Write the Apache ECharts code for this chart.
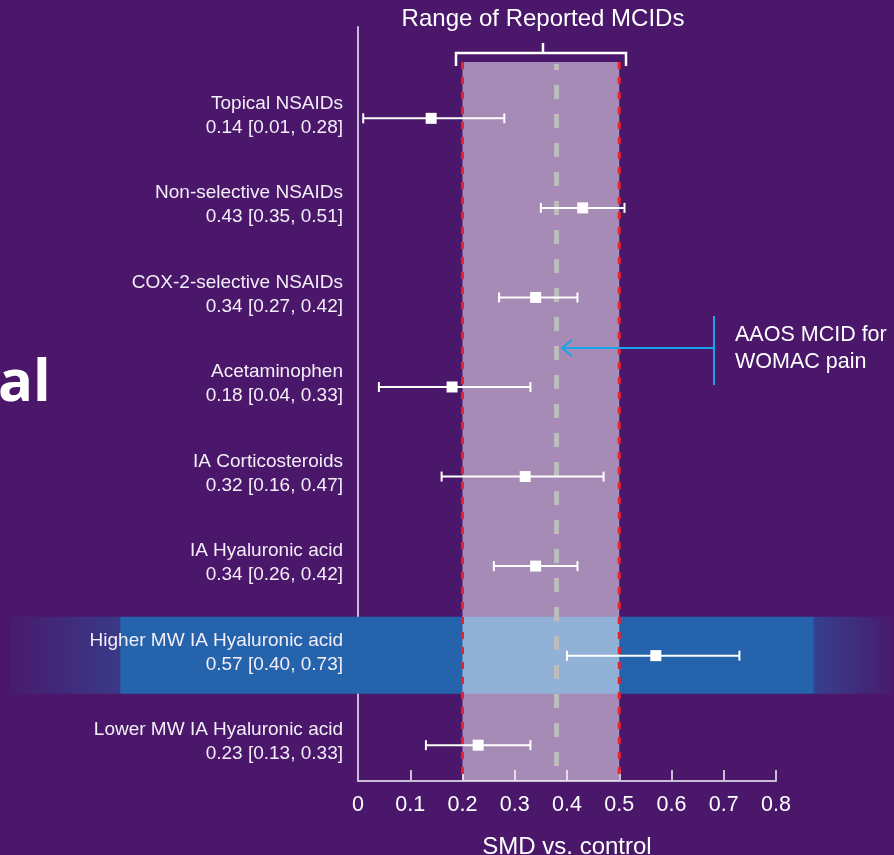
<!DOCTYPE html>
<html lang="en">

<head>
  <meta charset="UTF-8">
  <title>SMD vs. control</title>
  <script src="https://cdn.jsdelivr.net/npm/echarts@6/dist/echarts.min.js"></script>
  <style>
    html, body { margin: 0; padding: 0; background: #4a176a; }
    #main { width: 894px; height: 855px; }
  </style>
</head>

<body>
  <div id="main"></div>
</body>
<script>
  // treatments, top to bottom
  let treatments = [
    'Topical NSAIDs',
    'Non-selective NSAIDs',
    'COX-2-selective NSAIDs',
    'Acetaminophen',
    'IA Corticosteroids',
    'IA Hyaluronic acid',
    'Higher MW IA Hyaluronic acid',
    'Lower MW IA Hyaluronic acid'
  ]
  let smd = [0.14, 0.43, 0.34, 0.18, 0.32, 0.34, 0.57, 0.23]
  let ciLow = [0.01, 0.35, 0.27, 0.04, 0.16, 0.26, 0.40, 0.13]
  let ciHigh = [0.28, 0.51, 0.42, 0.33, 0.47, 0.42, 0.73, 0.33]
  let highlightRow = 6
  // range of reported MCIDs and the AAOS MCID
  let mcidRange = [0.2, 0.5]
  let aaosMcid = 0.38
  let xTicks = { min: 0, max: 0.8, interval: 0.1 }

  let font = '"Liberation Sans", Arial, sans-serif'
  let lavender = '#c9bdd8'

  initChart()

  function fmt(v) {
    return v.toFixed(2)
  }

  function initChart() {
    let myChart = echarts.init(document.getElementById('main'))
    let bandTop = -0.63 // just under the bracket, in row units
    let bottom = 7.4

    let rows = treatments.map((name, i) => [smd[i], ciLow[i], ciHigh[i], i])

    let option = {
      backgroundColor: '#4a176a',
      animation: false,
      grid: { left: 358, right: 118, top: 27, bottom: 74, outerBoundsMode: 'none', containLabel: false },
      xAxis: {
        type: 'value',
        min: xTicks.min,
        max: xTicks.max,
        interval: xTicks.interval,
        name: 'SMD vs. control',
        nameLocation: 'middle',
        nameGap: 54,
        nameTextStyle: { color: '#ffffff', fontSize: 24, fontFamily: font },
        axisLine: { onZero: false, lineStyle: { color: lavender, width: 2 } },
        axisTick: { inside: true, length: 11, lineStyle: { color: lavender, width: 2 } },
        axisLabel: { color: '#ffffff', fontSize: 21.5, fontFamily: font, margin: 13 },
        splitLine: { show: false }
      },
      yAxis: {
        type: 'value',
        min: -1.02,
        max: bottom,
        inverse: true,
        axisLine: { show: true, onZero: false, lineStyle: { color: lavender, width: 2 } },
        axisTick: { show: false },
        axisLabel: { show: false },
        splitLine: { show: false }
      },
      graphic: [
        {
          type: 'text', z: 10,
          style: { text: 'Range of Reported MCIDs', x: 543, y: 19, align: 'center', verticalAlign: 'middle',
            fill: '#ffffff', font: '24px ' + font }
        },
        {
          type: 'polyline', z: 10,
          shape: { points: [[456, 66], [456, 53], [626, 53], [626, 66]] },
          style: { stroke: '#ffffff', lineWidth: 2.5, fill: null }
        },
        {
          type: 'line', z: 10,
          shape: { x1: 543, y1: 53, x2: 543, y2: 43 },
          style: { stroke: '#ffffff', lineWidth: 2.5 }
        },
        {
          type: 'line', z: 10,
          shape: { x1: 714, y1: 316, x2: 714, y2: 385 },
          style: { stroke: '#1aa3e8', lineWidth: 2 }
        },
        {
          type: 'line', z: 10,
          shape: { x1: 714, y1: 348, x2: 562, y2: 348 },
          style: { stroke: '#1aa3e8', lineWidth: 2 }
        },
        {
          type: 'polyline', z: 10,
          shape: { points: [[572, 340], [562, 348], [572, 356]] },
          style: { stroke: '#1aa3e8', lineWidth: 2, fill: null }
        },
        {
          type: 'text', z: 10,
          style: { text: 'AAOS MCID for\nWOMAC pain', x: 735, y: 349, align: 'left', verticalAlign: 'middle',
            fill: '#ffffff', font: '21.5px ' + font, lineHeight: 27 }
        },
        {
          type: 'text', z: 10,
          style: { text: 'al', x: -2, y: 384, align: 'left', verticalAlign: 'middle',
            fill: '#ffffff', font: 'bold 58px "Open Sans", sans-serif' }
        }
      ],
      series: [
        {
          // highlighted row band
          type: 'custom',
          z: 1,
          silent: true,
          data: [[highlightRow]],
          encode: { y: 0 },
          renderItem: function (params, api) {
            let y = api.coord([0, api.value(0)])[1]
            return {
              type: 'rect',
              shape: { x: 10, y: y - 39, width: 882, height: 77 },
              style: {
                fill: new echarts.graphic.LinearGradient(0, 0, 1, 0, [
                  { offset: 0, color: 'rgba(37,99,173,0.05)' },
                  { offset: 0.124, color: 'rgba(37,99,173,0.45)' },
                  { offset: 0.126, color: 'rgba(37,99,173,1)' },
                  { offset: 0.91, color: 'rgba(37,99,173,1)' },
                  { offset: 0.912, color: 'rgba(37,99,173,0.55)' },
                  { offset: 1, color: 'rgba(37,99,173,0.05)' }
                ])
              }
            }
          }
        },
        {
          // MCID range band and reference lines
          type: 'custom',
          z: 3,
          silent: true,
          data: [[mcidRange[0], mcidRange[1], aaosMcid]],
          encode: { x: [0, 1, 2] },
          renderItem: function (params, api) {
            let a = api.coord([api.value(0), bandTop])
            let b = api.coord([api.value(1), bottom])
            let m = api.coord([api.value(2), bandTop])
            let red = { stroke: '#e8222c', lineWidth: 3, lineDash: [7, 8] }
            return {
              type: 'group',
              children: [
                { type: 'rect', shape: { x: a[0], y: a[1], width: b[0] - a[0], height: b[1] - a[1] },
                  style: { fill: 'rgba(255,255,255,0.5)' } },
                { type: 'line', shape: { x1: a[0], y1: a[1], x2: a[0], y2: b[1] }, style: red },
                { type: 'line', shape: { x1: b[0], y1: a[1], x2: b[0], y2: b[1] }, style: red },
                { type: 'line', shape: { x1: m[0], y1: a[1] + 2, x2: m[0], y2: b[1] },
                  style: { stroke: '#bdbdbd', lineWidth: 5, lineDash: [14, 15], lineDashOffset: 8 } }
              ]
            }
          }
        },
        {
          type: 'custom',
          z: 6,
          data: rows,
          encode: { x: [0, 1, 2], y: 3 },
          renderItem: function (params, api) {
            let i = api.value(3)
            let p = api.coord([api.value(0), i])
            let l = api.coord([api.value(1), i])
            let h = api.coord([api.value(2), i])
            let x0 = api.coord([0, i])[0]
            let white = { stroke: '#ffffff', lineWidth: 2 }
            return {
              type: 'group',
              children: [
                { type: 'line', shape: { x1: l[0], y1: p[1], x2: h[0], y2: p[1] }, style: white },
                { type: 'line', shape: { x1: l[0], y1: p[1] - 5, x2: l[0], y2: p[1] + 5 }, style: white },
                { type: 'line', shape: { x1: h[0], y1: p[1] - 5, x2: h[0], y2: p[1] + 5 }, style: white },
                { type: 'rect', shape: { x: p[0] - 5.5, y: p[1] - 5.5, width: 11, height: 11 }, style: { fill: '#ffffff' } },
                {
                  type: 'text',
                  style: { text: treatments[i], x: x0 - 15, y: p[1] - 15, align: 'right', verticalAlign: 'middle',
                    fill: '#f3eef7', font: '19px ' + font }
                },
                {
                  type: 'text',
                  style: { text: fmt(smd[i]) + ' [' + fmt(ciLow[i]) + ', ' + fmt(ciHigh[i]) + ']', x: x0 - 15, y: p[1] + 9,
                    align: 'right', verticalAlign: 'middle', fill: '#f3eef7', font: '19px ' + font }
                }
              ]
            }
          }
        }
      ]
    }
    myChart.setOption(option)
  }
</script>

</html>
